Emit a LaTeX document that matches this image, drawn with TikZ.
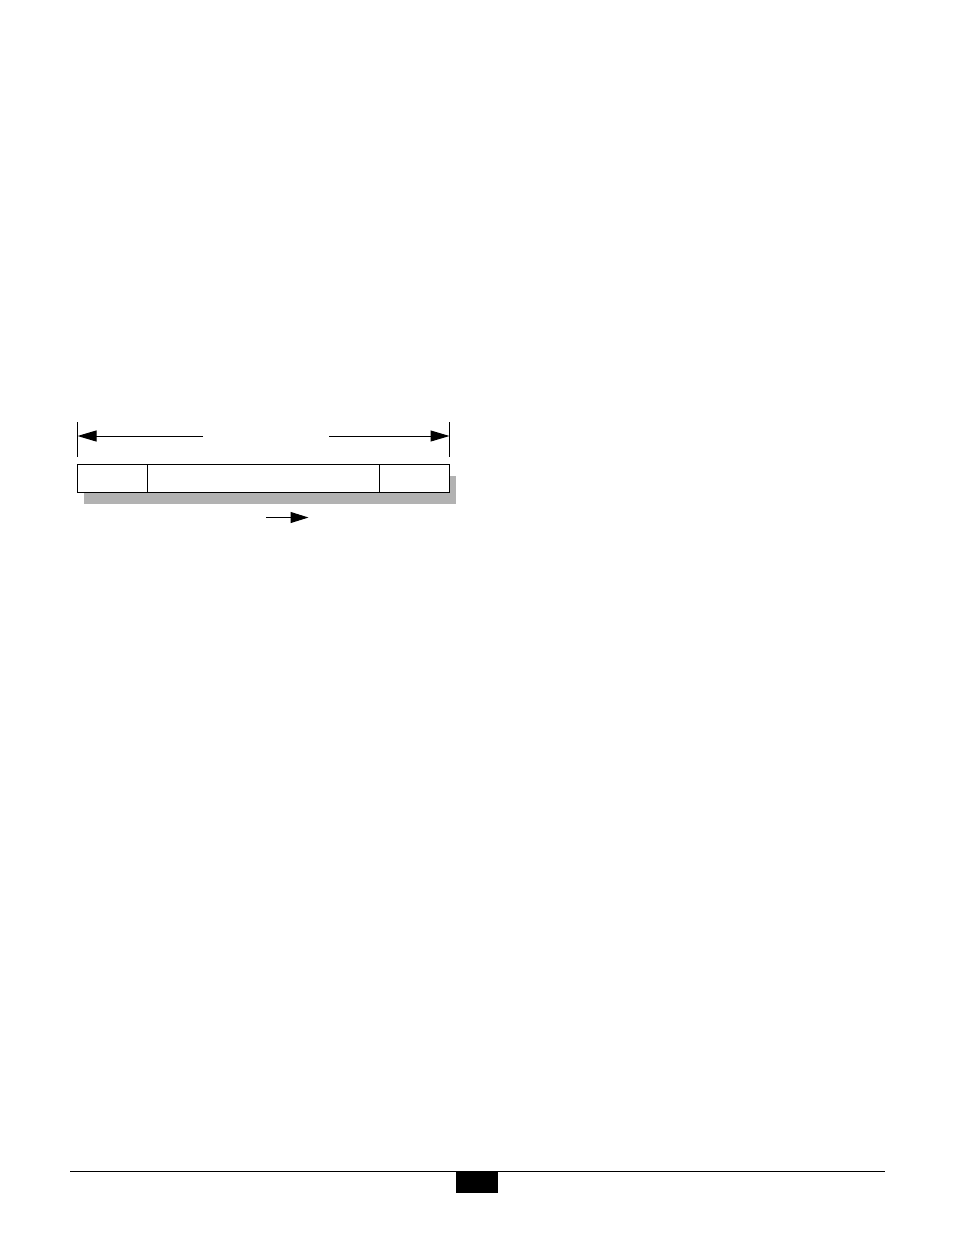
\documentclass[tikz,border=0pt]{standalone}
\usetikzlibrary{arrows.meta}
\begin{document}
\begin{tikzpicture}[x=1pt,y=-1pt,
  field/.style={draw=black,fill=white,line width=1pt,minimum height=28pt,inner sep=0pt,outer sep=0pt},
  shadowbox/.style={fill=black!30,draw=none},
  tick/.style={line width=1pt},
  dimarrow/.style={line width=1pt,-{Triangle[length=19pt,width=11pt]}},
  dirarrow/.style={line width=1pt,-{Triangle[length=18pt,width=11pt]}}]
\useasboundingbox (0,0) rectangle (954,1235);
% shadow
\fill[shadowbox] (84,476) rectangle (456,504);
% fields
\node[field,minimum width=70pt,anchor=north west] (f1) at (77.5,464) {};
\node[field,minimum width=232pt,anchor=north west] (f2) at (f1.north east) {};
\node[field,minimum width=70pt,anchor=north west] (f3) at (f2.north east) {};
% dimension ticks
\coordinate (lt) at (77.5,422);
\coordinate (lb) at (77.5,457);
\coordinate (rt) at (449.5,422);
\coordinate (rb) at (449.5,457);
\draw[tick] (lt) -- (lb);
\draw[tick] (rt) -- (rb);
\coordinate (la) at (77.5,436);
\coordinate (ra) at (449.5,436);
\coordinate (ls) at (203,436);
\coordinate (rs) at (329,436);
\draw[dimarrow] (ls) -- (la);
\draw[dimarrow] (rs) -- (ra);
% direction arrow
\coordinate (ds) at (266,517.5);
\coordinate (de) at (308.5,517.5);
\draw[dirarrow] (ds) -- (de);
% footer
\coordinate (fl) at (70,1171.5);
\coordinate (fr) at (885,1171.5);
\draw[line width=1pt] (fl) -- (fr);
\node[fill=black,minimum width=42pt,minimum height=21pt,inner sep=0pt,anchor=north west] (pg) at (456,1172) {};
\end{tikzpicture}
\end{document}
